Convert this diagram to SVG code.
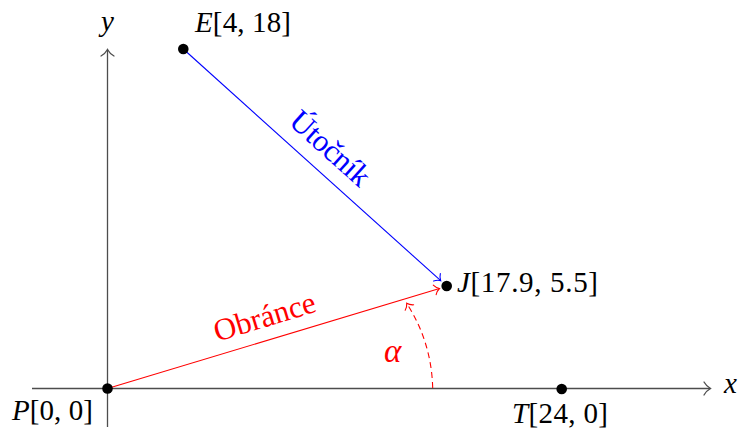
<svg xmlns="http://www.w3.org/2000/svg" width="740" height="432" viewBox="0 0 740 432">
<style>
.t{font-family:"Liberation Serif","Times New Roman",serif;font-size:29px;fill:#000}
.lb{font-size:31px}
.i{font-style:italic}
.axis{stroke:#4d4d4d;stroke-width:1.3;fill:none}
.dot{fill:#000}
</style>
<defs>
<marker id="ax" markerUnits="userSpaceOnUse" orient="auto" refX="0" refY="0" markerWidth="20" markerHeight="20" overflow="visible">
<path d="M-6.5,-6.5 C-4.5,-3 -1.5,-0.8 0,0 C-1.5,0.8 -4.5,3 -6.5,6.5" fill="none" stroke="#4d4d4d" stroke-width="1.3" stroke-linecap="round"/>
</marker>
<marker id="ab" markerUnits="userSpaceOnUse" orient="auto" refX="0" refY="0" markerWidth="20" markerHeight="20" overflow="visible">
<path d="M-5,-5 C-3.5,-2.3 -1.2,-0.6 0,0 C-1.2,0.6 -3.5,2.3 -5,5" fill="none" stroke="#0000ff" stroke-width="1.1" stroke-linecap="round"/>
</marker>
<marker id="ar" markerUnits="userSpaceOnUse" orient="auto" refX="0" refY="0" markerWidth="20" markerHeight="20" overflow="visible">
<path d="M-5,-5 C-3.5,-2.3 -1.2,-0.6 0,0 C-1.2,0.6 -3.5,2.3 -5,5" fill="none" stroke="#ff0000" stroke-width="1.1" stroke-linecap="round"/>
</marker>
</defs>
<rect width="740" height="432" fill="#fff"/>
<g id="axes">
<line class="axis" x1="32" y1="388.5" x2="710.5" y2="388.5" marker-end="url(#ax)"/>
<line class="axis" x1="107.5" y1="427" x2="107.5" y2="49.5" marker-end="url(#ax)"/>
<text class="t i" x="724" y="393">x</text>
<text class="t i" x="107.5" y="31" text-anchor="middle">y</text>
</g>
<g id="connectors">
<line x1="183.3" y1="49" x2="440.7" y2="280.7" stroke="#0000ff" stroke-width="1.1" marker-end="url(#ab)"/>
<line x1="107.5" y1="388.5" x2="439.5" y2="288.5" stroke="#ff0000" stroke-width="1.1" marker-end="url(#ar)"/>
<path d="M432.7,388 Q431.5,342 406.7,303.3" fill="none" stroke="#ff0000" stroke-width="1.1" stroke-dasharray="6,4" marker-end="url(#ar)"/>
<text class="t lb" x="323.5" y="156" text-anchor="middle" style="fill:#0000ff" textLength="97" transform="rotate(41.9 323.5 156)">Útočník</text>
<text class="t lb" x="267.5" y="326.5" text-anchor="middle" style="fill:#ff0000" textLength="105" transform="rotate(-16.8 267.5 326.5)">Obránce</text>
<text class="t i" x="384" y="362" style="fill:#ff0000;font-size:33px">α</text>
</g>
<g id="P">
<circle class="dot" cx="107.5" cy="388.5" r="5.3"/>
<text class="t" x="12" y="419.5" textLength="81"><tspan class="i">P</tspan>[0, 0]</text>
</g>
<g id="T">
<circle class="dot" cx="561.7" cy="389" r="5.3"/>
<text class="t" x="512" y="423" textLength="96"><tspan class="i">T</tspan>[24, 0]</text>
</g>
<g id="E">
<circle class="dot" cx="183.3" cy="49" r="5.3"/>
<text class="t" x="195" y="32" textLength="96"><tspan class="i">E</tspan>[4, 18]</text>
</g>
<g id="J">
<circle class="dot" cx="446.7" cy="286" r="5.3"/>
<text class="t" x="457" y="292" textLength="141"><tspan class="i">J</tspan>[17.9, 5.5]</text>
</g>
</svg>
